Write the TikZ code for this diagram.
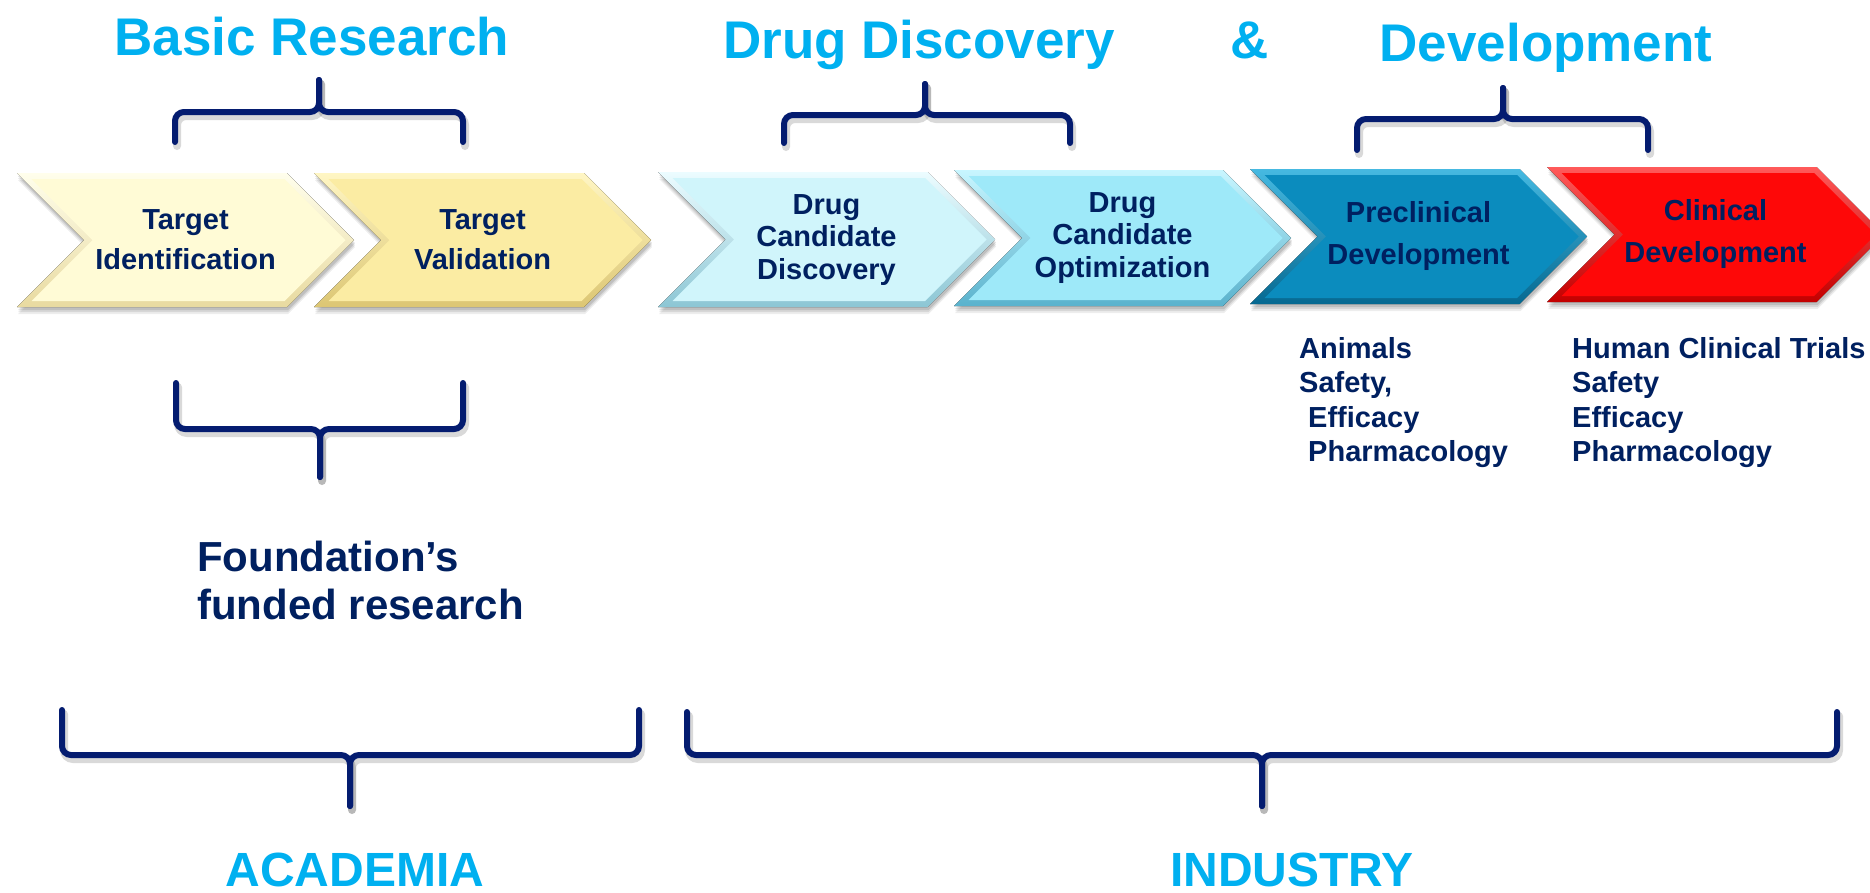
\documentclass[tikz,border=0pt]{standalone}
\usepackage{fontspec}
\setmainfont{Liberation Sans}
\usetikzlibrary{calc}
\definecolor{navy}{RGB}{0,32,96}
\definecolor{bracecol}{RGB}{4,28,112}
\definecolor{ltblue}{RGB}{0,176,240}
% chevron colours: light / base / dark
\definecolor{aL}{RGB}{255,254,236}\definecolor{aB}{RGB}{255,251,214}\definecolor{aD}{RGB}{232,218,160}
\definecolor{bL}{RGB}{255,246,196}\definecolor{bB}{RGB}{251,236,163}\definecolor{bD}{RGB}{220,198,115}
\definecolor{cL}{RGB}{236,252,255}\definecolor{cB}{RGB}{208,245,251}\definecolor{cD}{RGB}{140,198,212}
\definecolor{dL}{RGB}{200,246,255}\definecolor{dB}{RGB}{158,233,249}\definecolor{dD}{RGB}{90,178,205}
\definecolor{eL}{RGB}{70,185,225}\definecolor{eB}{RGB}{11,140,190}\definecolor{eD}{RGB}{6,105,145}
\definecolor{fL}{RGB}{255,90,90}\definecolor{fB}{RGB}{254,8,8}\definecolor{fD}{RGB}{195,0,0}
\tikzset{
  ctext/.style={text=navy, font={\bfseries\fontsize{29}{#1}\selectfont}, align=center, inner sep=0pt},
  ttitle/.style={text=ltblue, font={\bfseries\fontsize{53}{60}\selectfont}, inner sep=0pt, anchor=base},
  btitle/.style={text=ltblue, font={\bfseries\fontsize{48}{56}\selectfont}, inner sep=0pt, anchor=base},
  dtext/.style={text=navy, font={\bfseries\fontsize{29}{34.5}\selectfont}, align=left, inner sep=0pt, anchor=north west},
  ftext/.style={text=navy, font={\bfseries\fontsize{42}{48}\selectfont}, align=left, inner sep=0pt, anchor=north west},
  brc/.style={draw=bracecol, line width=6pt, rounded corners=9pt, line cap=round},
  brcshadow/.style={draw=black, opacity=0.15, line width=8pt, rounded corners=9pt, line cap=round},
}
% #1 left, #2 top, #3 bottom, #4 colour prefix
\newcommand\mychev[4]{%
  \pgfmathsetmacro\cL{#1}\pgfmathsetmacro\cT{#2}\pgfmathsetmacro\cB{#3}%
  \pgfmathsetmacro\cC{(#2+#3)/2}\pgfmathsetmacro\cD{(#3-#2)/2}\pgfmathsetmacro\cR{#1+337}%
  \foreach \s/\o in {7/0.07,5/0.09,3/0.11}{%
    \fill[black,opacity=\o] (\cL+1,\cT+\s) -- (\cR-\cD+1,\cT+\s) -- (\cR+1,\cC+\s) -- (\cR-\cD+1,\cB+\s) -- (\cL+1,\cB+\s) -- (\cL+\cD+1,\cC+\s) -- cycle;}
  \fill[top color=#4L, bottom color=#4D] (\cL,\cT) -- (\cR-\cD,\cT) -- (\cR,\cC) -- (\cR-\cD,\cB) -- (\cL,\cB) -- (\cL+\cD,\cC) -- cycle;
  \fill[#4B] (\cL+14.5,\cT+6) -- (\cR-\cD-2.5,\cT+6) -- (\cR-8.5,\cC) -- (\cR-\cD-2.5,\cB-6) -- (\cL+14.5,\cB-6) -- (\cL+\cD+8.5,\cC) -- cycle;
}
% brace: #1 L, #2 R, #3 P, #4 tip, #5 bar, #6 ends
\newcommand\mybrace[6]{%
  \begin{scope}[shift={(2,4)}]
    \draw[brcshadow] (#1,#6) -- (#1,#5) -- (#3,#5) -- (#3,#4);
    \draw[brcshadow] (#2,#6) -- (#2,#5) -- (#3,#5) -- (#3,#4);
  \end{scope}
  \draw[brc] (#1,#6) -- (#1,#5) -- (#3,#5) -- (#3,#4);
  \draw[brc] (#2,#6) -- (#2,#5) -- (#3,#5) -- (#3,#4);
}
\begin{document}
\begin{tikzpicture}[x=1pt,y=-1pt]
\useasboundingbox (0,0) rectangle (1870,892);
\begin{scope}
\clip (0,0) rectangle (1870,892);
\fill[white] (0,0) rectangle (1870,892);
% titles
\node[ttitle] (tbasic) at (312,55) {Basic Research};
\node[ttitle] (tdrug) at (919,58) {Drug Discovery};
\node[ttitle] (tamp) at (1250,58) {\&};
\node[ttitle] (tdev) at (1546,61) {Development};
% top braces
\mybrace{175}{463}{319}{80}{112}{142}
\mybrace{784}{1070}{925}{84}{115}{143}
\mybrace{1357}{1648}{1503}{88}{119}{150}
% chevrons
\mychev{17}{173}{307}{a}
\mychev{314}{173}{307}{b}
\mychev{658}{172}{307}{c}
\mychev{954}{170}{306}{d}
\mychev{1250}{169}{304}{e}
\mychev{1547}{167}{302}{f}
\node[ctext=40] (c1) at (185.5,240) {Target\\Identification};
\node[ctext=40] (c2) at (482.5,240) {Target\\Validation};
\node[ctext=32.5] (c3) at (826.5,240) {Drug\\Candidate\\Discovery};
\node[ctext=32.5] (c4) at (1122.5,238) {Drug\\Candidate\\Optimization};
\node[ctext=42] (c5) at (1418.5,236) {Preclinical\\Development};
\node[ctext=42] (c6) at (1715.5,234) {Clinical\\Development};
% details
\node[dtext] (pre) at (1299,337) {Animals\\Safety,\\\hspace{9pt}Efficacy\\\hspace{9pt}Pharmacology};
\node[dtext] (cli) at (1572,337) {Human Clinical Trials\\Safety\\Efficacy\\Pharmacology};
% lower braces
\mybrace{176}{463}{320}{477}{429}{383}
\node[ftext] (fund) at (197,541) {Foundation’s\\funded research};
\mybrace{62}{639}{350}{806}{755}{710}
\mybrace{687}{1837}{1262}{806}{755}{712}
\node[btitle] (acad) at (355,886) {ACADEMIA};
\node[btitle] (ind) at (1292,886) {INDUSTRY};
\end{scope}
\end{tikzpicture}
\end{document}
